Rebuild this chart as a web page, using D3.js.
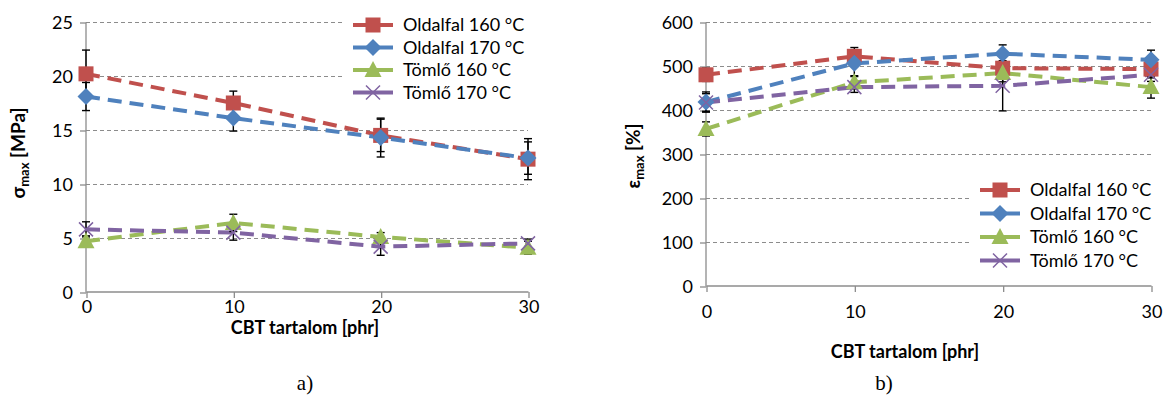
<!DOCTYPE html>
<html>
  <head>
    <script src="https://d3js.org/d3.v7.min.js"></script>
    <style>
      body { margin: 0; background: #fff; }
      text { font-family: "Lato", "Liberation Sans", sans-serif; fill: #000; }
    </style>
  </head>
  <body>
    <svg id="chart" width="1164" height="397"></svg>
    <script>
      var cbt = [0, 10, 20, 30];
      var seriesNames = ["Oldalfal 160 °C", "Oldalfal 170 °C", "Tömlő 160 °C", "Tömlő 170 °C"];
      var colors = ["#C0504D", "#4F81BD", "#9BBB59", "#8064A2"];
      var markers = ["square", "diamond", "triangle", "cross"];

      // a) sigma max [MPa]
      var sigmaO160 = [20.2, 17.5, 14.5, 12.3];
      var sigmaO170 = [18.1, 16.1, 14.3, 12.4];
      var sigmaT160 = [4.7, 6.4, 5.1, 4.1];
      var sigmaT170 = [5.8, 5.5, 4.2, 4.5];
      var sigmaErrO160 = [2.2, 1.1, 1.5, 1.9];
      var sigmaErrO170 = [1.3, 1.2, 1.8, 1.5];
      var sigmaErrT160 = [0.5, 0.8, 0.4, 0.6];
      var sigmaErrT170 = [0.7, 0.7, 0.8, 0.4];

      // b) epsilon max [%]
      var epsO160 = [480, 522, 495, 493];
      var epsO170 = [418, 506, 528, 514];
      var epsT160 = [357, 463, 484, 452];
      var epsT170 = [417, 452, 455, 480];
      var epsErrO160 = [15, 20, 15, 20];
      var epsErrO170 = [23, 30, 20, 22];
      var epsErrT160 = [16, 15, 20, 25];
      var epsErrT170 = [20, 12, 57, 15];

      var svg = d3.select("#chart");

      function drawChart(opt) {
        var x = d3.scaleLinear().domain([0, 30]).range(opt.xRange);
        var y = d3.scaleLinear().domain(opt.yDomain).range(opt.yRange);
        var g = svg.append("g");

        // grid
        g.selectAll(".grid")
          .data(opt.yTicks.slice(1))
          .enter()
          .append("line")
          .attr("x1", x(0))
          .attr("x2", x(30))
          .attr("y1", (d) => y(d) + 0.5)
          .attr("y2", (d) => y(d) + 0.5)
          .style("stroke", "#8c8c8c")
          .style("stroke-width", 1)
          .style("stroke-dasharray", "4,3");

        var yAxis = g.append("g")
          .attr("transform", "translate(" + x(0) + ",0.5)")
          .call(d3.axisLeft(y).tickValues(opt.yTicks).tickSize(6).tickPadding(7));
        var xAxis = g.append("g")
          .attr("transform", "translate(0.5," + y(0) + ")")
          .call(d3.axisBottom(x).tickValues(cbt).tickSize(6).tickPadding(opt.xPad));
        g.selectAll(".domain, .tick line").style("stroke", "#8c8c8c").style("stroke-width", 1.3);
        g.selectAll(".tick text").style("font-size", "18px").style("font-family", "Lato").style("fill", "#000");
        yAxis.select(".domain").attr("d", "M0," + y.range()[0] + "V" + y.range()[1]);
        xAxis.select(".domain").attr("d", "M" + x.range()[0] + ",0H" + x.range()[1]);

        // axis titles
        g.append("text")
          .attr("x", opt.xTitleX)
          .attr("y", opt.xTitleY)
          .attr("text-anchor", "middle")
          .style("font-size", "18px")
          .style("font-weight", "bold")
          .text("CBT tartalom [phr]");

        var yt = g.append("text")
          .attr("transform", "translate(" + opt.yTitleX + "," + opt.yTitleY + ") rotate(-90)")
          .attr("text-anchor", "middle")
          .style("font-size", "19px")
          .style("font-weight", "bold");
        yt.append("tspan").text(opt.symbol);
        yt.append("tspan").attr("dy", 4).style("font-size", "13px").text("max");
        yt.append("tspan").attr("dy", -4).text(" " + opt.unit);

        // lines
        var line = d3.line().x((d, i) => x(cbt[i])).y((d) => y(d));
        opt.series.forEach(function (s, k) {
          g.append("path")
            .attr("d", line(s))
            .style("fill", "none")
            .style("stroke", colors[k])
            .style("stroke-width", 4)
            .style("stroke-dasharray", "14,8");
        });

        // error bars
        opt.series.forEach(function (s, k) {
          s.forEach(function (v, i) {
            var e = opt.errors[k][i];
            var cx = x(cbt[i]);
            g.append("line").attr("x1", cx).attr("x2", cx).attr("y1", y(v - e)).attr("y2", y(v + e))
              .style("stroke", "#000").style("stroke-width", 1.4);
            [v - e, v + e].forEach(function (w) {
              g.append("line").attr("x1", cx - 4).attr("x2", cx + 4).attr("y1", y(w)).attr("y2", y(w))
                .style("stroke", "#000").style("stroke-width", 1.4);
            });
          });
        });

        // markers
        opt.series.forEach(function (s, k) {
          s.forEach(function (v, i) {
            drawMarker(g, markers[k], x(cbt[i]), y(v), colors[k]);
          });
        });

        // legend
        var lg = g.append("g").attr("transform", "translate(" + opt.legendX + "," + opt.legendY + ")");
        lg.append("rect")
          .attr("x", -8).attr("y", -12)
          .attr("width", opt.legendW).attr("height", 4 * opt.legendStep + 2)
          .style("fill", "#fff");
        seriesNames.forEach(function (name, k) {
          var ly = k * opt.legendStep;
          lg.append("line").attr("x1", 0).attr("x2", 40).attr("y1", ly).attr("y2", ly)
            .style("stroke", colors[k]).style("stroke-width", 4);
          drawMarker(lg, markers[k], 20, ly, colors[k]);
          lg.append("text").attr("x", 50).attr("y", ly).attr("dy", "0.35em")
            .style("font-size", "18px").text(name);
        });

        g.append("text")
          .attr("x", opt.labelX)
          .attr("y", 390)
          .attr("text-anchor", "middle")
          .style("font-family", "Liberation Serif")
          .style("font-size", "21px")
          .text(opt.label);
      }

      function drawMarker(g, type, cx, cy, color) {
        if (type === "square") {
          g.append("rect").attr("x", cx - 7.5).attr("y", cy - 7.5).attr("width", 15).attr("height", 15).style("fill", color);
        } else if (type === "diamond") {
          g.append("path").attr("d", "M" + cx + "," + (cy - 8.5) + "L" + (cx + 8.5) + "," + cy + "L" + cx + "," + (cy + 8.5) + "L" + (cx - 8.5) + "," + cy + "Z").style("fill", color);
        } else if (type === "triangle") {
          g.append("path").attr("d", "M" + cx + "," + (cy - 9) + "L" + (cx + 8.5) + "," + (cy + 7) + "L" + (cx - 8.5) + "," + (cy + 7) + "Z").style("fill", color);
        } else {
          g.append("path").attr("d", "M" + (cx - 7) + "," + (cy - 7) + "L" + (cx + 7) + "," + (cy + 7) + "M" + (cx + 7) + "," + (cy - 7) + "L" + (cx - 7) + "," + (cy + 7))
            .style("stroke", color).style("stroke-width", 1.5).style("fill", "none");
        }
      }

      drawChart({
        xRange: [86, 528],
        yDomain: [0, 25],
        yRange: [292, 22],
        yTicks: [0, 5, 10, 15, 20, 25],
        xPad: 2,
        xTitleX: 305,
        xTitleY: 334,
        yTitleX: 25,
        yTitleY: 153,
        symbol: "σ",
        unit: "[MPa]",
        series: [sigmaO160, sigmaO170, sigmaT160, sigmaT170],
        errors: [sigmaErrO160, sigmaErrO170, sigmaErrT160, sigmaErrT170],
        legendX: 353,
        legendY: 25,
        legendStep: 22.5,
        legendW: 200,
        label: "a)",
        labelX: 305
      });

      drawChart({
        xRange: [706, 1151],
        yDomain: [0, 600],
        yRange: [286, 22],
        yTicks: [0, 100, 200, 300, 400, 500, 600],
        xPad: 13,
        xTitleX: 905,
        xTitleY: 358,
        yTitleX: 640,
        yTitleY: 156,
        symbol: "ε",
        unit: "[%]",
        series: [epsO160, epsO170, epsT160, epsT170],
        errors: [epsErrO160, epsErrO170, epsErrT160, epsErrT170],
        legendX: 980,
        legendY: 190,
        legendStep: 23.5,
        legendW: 200,
        label: "b)",
        labelX: 884
      });
    </script>
  </body>
</html>
